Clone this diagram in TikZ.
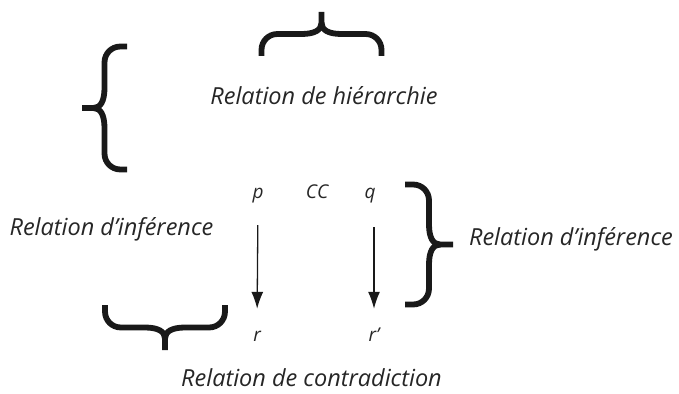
\documentclass[tikz,border=0pt]{standalone}
\usepackage{fontspec}
\setmainfont{Open Sans}
\usetikzlibrary{arrows.meta}
\newcommand\drawbrace[6]{% x, y of first end (image px), along vector, depth vector, width, depth
  \begin{scope}[shift={(#1,#2)},x={#3},y={#4}]
    \draw[bracestyle] ({#5/2},#6) -- ({#5/2},{#6/2+11}) .. controls ({#5/2},{#6/2+4}) and ({#5/2-7},{#6/2}) .. ({#5/2-20},{#6/2})
      -- (16,{#6/2}) .. controls (7,{#6/2}) and (0,{#6/2-7}) .. (0,{#6/2-16}) -- (0,0);
    \draw[bracestyle] ({#5/2},{#6/2+11}) .. controls ({#5/2},{#6/2+4}) and ({#5/2+7},{#6/2}) .. ({#5/2+20},{#6/2})
      -- ({#5-16},{#6/2}) .. controls ({#5-7},{#6/2}) and (#5,{#6/2-7}) .. (#5,{#6/2-16}) -- (#5,0);
  \end{scope}}
\begin{document}
\begin{tikzpicture}[x=1pt,y=-1pt,
  bracestyle/.style={line width=5.8pt,line cap=butt,line join=round,draw=black!90},
  lbl/.style={font=\fontsize{23.5}{28}\selectfont\itshape,text=black!85,inner sep=0pt,anchor=base},
  sym/.style={font=\fontsize{19}{22}\selectfont\itshape,text=black!85,inner sep=0pt,anchor=base,text height=12pt,text depth=4pt},
  arr/.style={line width=1.3pt,draw=black!90,-{Latex[length=17pt,width=12pt]}}]
\useasboundingbox (0,0) rectangle (679,393);
% braces
\drawbrace{261.5}{56}{(1pt,0pt)}{(0pt,1pt)}{120}{44}
\drawbrace{127}{46.5}{(0pt,-1pt)}{(-1pt,0pt)}{123}{45}
\drawbrace{405}{184.5}{(0pt,-1pt)}{(1pt,0pt)}{120}{48}
\drawbrace{105}{305}{(1pt,0pt)}{(0pt,-1pt)}{120}{45}
% labels
\node[lbl] (hier) at (324,105) {Relation de hiérarchie};
\node[lbl] (infl) at (111.5,235) {Relation d’inférence};
\node[lbl] (infr) at (571,245) {Relation d’inférence};
\node[lbl] (contr) at (311.5,386.5) {Relation de contradiction};
% symbols
\node[sym] (p) at (258,198) {p};
\node[sym] (cc) at (317,198) {CC};
\node[sym] (q) at (370,198) {q};
\node[sym] (r) at (257,341) {r};
\node[sym] (rp) at (374,341) {r’};
\draw[arr,shorten <=23pt,shorten >=20pt] (p.south) -- (r.north);
\draw[arr,shorten <=25pt,shorten >=20pt] (q.south -| rp.south) -- (rp.north);
\end{tikzpicture}
\end{document}
